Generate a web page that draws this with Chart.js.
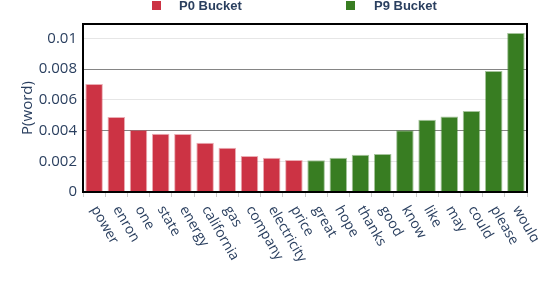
<!DOCTYPE html>
<html>
<head>
<meta charset="utf-8">
<script src="https://cdn.jsdelivr.net/npm/chart.js@4.4.1/dist/chart.umd.min.js"></script>
<style>
  html, body { margin: 0; padding: 0; background: #fff; }
  #wrap { width: 538px; height: 284px; }
</style>
</head>
<body>
<div id="wrap"><canvas id="chart" width="538" height="284"></canvas></div>
<script>
// word probabilities per bucket
const words = ['power', 'enron', 'one', 'state', 'energy', 'california', 'gas', 'company', 'electricity', 'price',
               'great', 'hope', 'thanks', 'good', 'know', 'like', 'may', 'could', 'please', 'would'];
const p0Values = [0.00703, 0.00488, 0.00403, 0.00379, 0.00377, 0.00321, 0.00288, 0.00234, 0.00223, 0.00209,
                  null, null, null, null, null, null, null, null, null, null];
const p9Values = [null, null, null, null, null, null, null, null, null, null,
                  0.00206, 0.00223, 0.00243, 0.00247, 0.00401, 0.0047, 0.00492, 0.00527, 0.00787, 0.01034];
const yTicks = [0, 0.002, 0.004, 0.006, 0.008, 0.01];

const TEXT = '#2a3f5f';
const RED = '#cc3344';
const GREEN = '#387d22';

// plotly-style mirrored frame around the plot area
const framePlugin = {
    id: 'frame',
    afterDraw(chart) {
        const { ctx, chartArea: a } = chart;
        ctx.save();
        ctx.strokeStyle = '#000';
        ctx.lineWidth = 2;
        ctx.strokeRect(a.left, a.top, a.right - a.left, a.bottom - a.top);
        ctx.restore();
    }
};

// x labels rotated clockwise, starting at the tick
const xLabelPlugin = {
    id: 'xLabels',
    afterDraw(chart) {
        const { ctx } = chart;
        const xs = chart.scales.x;
        ctx.save();
        ctx.fillStyle = TEXT;
        ctx.font = '14px "Open Sans", sans-serif';
        ctx.textAlign = 'left';
        ctx.textBaseline = 'middle';
        words.forEach((w, i) => {
            ctx.save();
            ctx.translate(xs.getPixelForValue(i), 207);
            ctx.rotate(60 * Math.PI / 180);
            ctx.fillText(w, 0, 0);
            ctx.restore();
        });
        ctx.restore();
    }
};

// legend laid out like the original (wide gap between swatch and text)
const legendPlugin = {
    id: 'bucketLegend',
    afterDraw(chart) {
        const { ctx } = chart;
        const items = [
            { ds: chart.data.datasets[0], box: 152, text: 179 },
            { ds: chart.data.datasets[1], box: 346, text: 374 },
        ];
        ctx.save();
        ctx.font = 'bold 13px "Liberation Sans", Arial, sans-serif';
        ctx.textBaseline = 'alphabetic';
        items.forEach(it => {
            ctx.fillStyle = it.ds.backgroundColor;
            ctx.fillRect(it.box, 1, 9, 9);
            ctx.fillStyle = TEXT;
            ctx.fillText(it.ds.label, it.text, 10);
        });
        ctx.restore();
    }
};

new Chart(document.getElementById('chart'), {
    type: 'bar',
    data: {
        labels: words,
        datasets: [
            { label: 'P0 Bucket', data: p0Values, backgroundColor: RED,
              borderColor: 'rgba(204, 51, 68, 0.4)', borderWidth: 1 },
            { label: 'P9 Bucket', data: p9Values, backgroundColor: GREEN,
              borderColor: 'rgba(56, 125, 34, 0.45)', borderWidth: 1 },
        ]
    },
    options: {
        responsive: false,
        animation: false,
        grouped: false,
        barPercentage: 0.79,
        categoryPercentage: 1,
        layout: { padding: { top: 24, right: 11, left: 0, bottom: 0 } },
        plugins: {
            legend: { display: false },
            tooltip: { enabled: false }
        },
        scales: {
            x: {
                ticks: { display: false },
                grid: { drawOnChartArea: false, drawTicks: true, tickLength: 5, color: '#cccccc' },
                border: { color: '#000', width: 2 },
                afterFit: (s) => { s.height = 92; }
            },
            y: {
                min: 0,
                max: 0.01093,
                afterBuildTicks: (s) => { s.ticks = yTicks.map(v => ({ value: v })); },
                ticks: {
                    color: TEXT,
                    font: { family: '"Open Sans", sans-serif', size: 15 },
                    padding: 6,
                    callback: (v) => String(+v.toFixed(3))
                },
                grid: {
                    drawTicks: false,
                    lineWidth: 1,
                    color: (c) => {
                        const v = Math.round(c.tick.value * 1000);
                        return (v === 4 || v === 8) ? '#858585' : '#e6e6e6';
                    }
                },
                border: { color: '#000', width: 2 },
                title: {
                    display: true,
                    text: 'P(word)',
                    color: TEXT,
                    font: { family: '"Open Sans", sans-serif', size: 15 },
                    padding: { top: 19, bottom: 0 }
                },
                afterFit: (s) => { s.width = 83; }
            }
        }
    },
    plugins: [framePlugin, xLabelPlugin, legendPlugin]
});
</script>
</body>
</html>
